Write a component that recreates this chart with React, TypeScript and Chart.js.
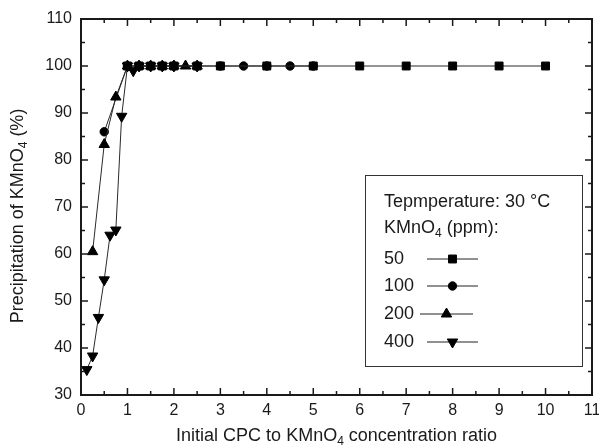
import React, { useEffect, useRef } from 'react';
import { Chart, registerables } from 'chart.js';
Chart.register(...registerables);

// ---- data ----
const xTickValues = [0, 1, 2, 3, 4, 5, 6, 7, 8, 9, 10, 11];
const yTickValues = [30, 40, 50, 60, 70, 80, 90, 100, 110];
const seriesLabels = ['50', '100', '200', '400'];

const x50 = [1, 1.25, 1.5, 1.75, 2, 2.5, 3, 4, 5, 6, 7, 8, 9, 10];
const y50 = [100, 100, 100, 100, 100, 100, 100, 100, 100, 100, 100, 100, 100, 100];

const x100 = [0.5, 1, 1.25, 1.5, 1.75, 2, 2.5, 3, 3.5, 4, 4.5, 5];
const y100 = [86, 100, 100, 100, 100, 100, 100, 100, 100, 100, 100, 100];

const x200 = [0.25, 0.5, 0.75, 1, 1.25, 1.5, 1.75, 2, 2.25, 2.5];
const y200 = [60.5, 83.3, 93.4, 100, 100, 100, 100, 100, 100, 100];

const x400 = [0.125, 0.25, 0.375, 0.5, 0.625, 0.75, 0.875, 1, 1.125, 1.25, 1.5, 1.75, 2, 2.5];
const y400 = [35.4, 38.3, 46.5, 54.5, 64.0, 65.1, 89.3, 100, 99, 100, 100, 100, 100, 100];

const FONT = '"Liberation Sans", Arial, Helvetica, sans-serif';
const INK = '#1a1a1a';

type Marker = { style: string; radius: number; rotation: number };
const markers: Marker[] = [
  { style: 'rect', radius: 5.6, rotation: 0 },
  { style: 'circle', radius: 4.2, rotation: 0 },
  { style: 'triangle', radius: 6, rotation: 0 },
  { style: 'triangle', radius: 6, rotation: 180 },
];

function pts(xs: number[], ys: number[]) {
  return xs.map((x, i) => ({ x, y: ys[i] }));
}

function drawMarker(ctx: CanvasRenderingContext2D, m: Marker, x: number, y: number) {
  const r = m.radius;
  ctx.beginPath();
  if (m.style === 'rect') {
    const s = r * Math.SQRT1_2;
    ctx.rect(x - s, y - s, 2 * s, 2 * s);
  } else if (m.style === 'circle') {
    ctx.arc(x, y, r, 0, Math.PI * 2);
  } else {
    let a = (m.rotation * Math.PI) / 180;
    for (let i = 0; i < 3; i++) {
      const px = x + Math.sin(a) * r;
      const py = y - Math.cos(a) * r;
      if (i === 0) ctx.moveTo(px, py);
      else ctx.lineTo(px, py);
      a += (2 * Math.PI) / 3;
    }
    ctx.closePath();
  }
  ctx.fill();
  ctx.stroke();
}

function richWidth(ctx: CanvasRenderingContext2D, parts: [string, boolean][], size: number) {
  let w = 0;
  for (const [t, sub] of parts) {
    ctx.font = `${sub ? Math.round(size * 0.68) : size}px ${FONT}`;
    w += ctx.measureText(t).width;
  }
  return w;
}
function drawRich(ctx: CanvasRenderingContext2D, parts: [string, boolean][], size: number, x: number, y: number) {
  let cx = x;
  for (const [t, sub] of parts) {
    ctx.font = `${sub ? Math.round(size * 0.68) : size}px ${FONT}`;
    ctx.fillText(t, cx, sub ? y + size * 0.3 : y);
    cx += ctx.measureText(t).width;
  }
}

const decorPlugin = {
  id: 'decor',
  afterDraw(chart: any) {
    const ctx: CanvasRenderingContext2D = chart.ctx;
    const { left, right, top, bottom } = chart.chartArea;
    const xs = chart.scales.x;
    const ys = chart.scales.y;
    ctx.save();
    ctx.strokeStyle = INK;
    ctx.lineWidth = 2;
    ctx.strokeRect(left, top, right - left, bottom - top);
    ctx.lineWidth = 1.5;
    ctx.beginPath();
    for (let v = 0; v <= 11.0001; v += 0.5) {
      const px = xs.getPixelForValue(v);
      const len = Math.abs(v - Math.round(v)) < 1e-6 ? 7 : 4;
      ctx.moveTo(px, bottom);
      ctx.lineTo(px, bottom - len);
      ctx.moveTo(px, top);
      ctx.lineTo(px, top + len);
    }
    for (let v = 30; v <= 110.0001; v += 5) {
      const py = ys.getPixelForValue(v);
      const len = v % 10 === 0 ? 7 : 4;
      ctx.moveTo(left, py);
      ctx.lineTo(left + len, py);
      ctx.moveTo(right, py);
      ctx.lineTo(right - len, py);
    }
    ctx.stroke();

    ctx.fillStyle = INK;
    ctx.textBaseline = 'middle';
    ctx.textAlign = 'left';
    const xt: [string, boolean][] = [['Initial CPC to KMnO', false], ['4', true], [' concentration ratio', false]];
    const wx = richWidth(ctx, xt, 18);
    drawRich(ctx, xt, 18, (left + right) / 2 - wx / 2, 436);
    const yt: [string, boolean][] = [['Precipitation of KMnO', false], ['4', true], [' (%)', false]];
    const wy = richWidth(ctx, yt, 18);
    ctx.save();
    ctx.translate(18, 216);
    ctx.rotate(-Math.PI / 2);
    drawRich(ctx, yt, 18, -wy / 2, 0);
    ctx.restore();

    const bx = 365.5, by = 175.5, bw = 217, bh = 191;
    ctx.lineWidth = 1;
    ctx.strokeStyle = '#333';
    ctx.strokeRect(bx, by, bw, bh);
    ctx.fillStyle = INK;
    ctx.font = `18px ${FONT}`;
    ctx.fillText('Tepmperature: 30 \u00B0C', 384, 202);
    drawRich(ctx, [['KMnO', false], ['4', true], [' (ppm):', false]], 18, 384, 228);
    const rowsY = [259, 286, 314, 342];
    const lineX1 = [427, 427, 420, 427];
    const lineX2 = [478, 478, 473, 478];
    seriesLabels.forEach((lab, i) => {
      const ry = rowsY[i];
      ctx.font = `18px ${FONT}`;
      ctx.fillStyle = INK;
      ctx.fillText(lab, 384, ry);
      ctx.strokeStyle = '#222';
      ctx.lineWidth = 1;
      ctx.beginPath();
      ctx.moveTo(lineX1[i], ry);
      ctx.lineTo(lineX2[i], ry);
      ctx.stroke();
      ctx.fillStyle = '#000';
      ctx.strokeStyle = '#000';
      drawMarker(ctx, markers[i], (lineX1[i] + lineX2[i]) / 2, ry);
    });
    ctx.restore();
  },
};

export default function App() {
  const ref = useRef<HTMLCanvasElement | null>(null);
  useEffect(() => {
    if (!ref.current) return;
    const xsArr = [x50, x100, x200, x400];
    const ysArr = [y50, y100, y200, y400];
    const orders = [3, 4, 2, 1];
    const datasets = seriesLabels.map((lab, i) => ({
      label: lab,
      data: pts(xsArr[i], ysArr[i]),
      showLine: true,
      borderColor: '#2a2a2a',
      borderWidth: 1,
      backgroundColor: '#000',
      pointBackgroundColor: '#000',
      pointBorderColor: '#000',
      pointBorderWidth: 1,
      pointStyle: markers[i].style,
      pointRadius: markers[i].radius,
      pointRotation: markers[i].rotation,
      order: orders[i],
    }));
    const chart = new Chart(ref.current, {
      type: 'scatter',
      data: { datasets },
      options: {
        animation: false,
        responsive: false,
        layout: { padding: { top: 19, right: 7, left: 0, bottom: 0 } },
        plugins: { legend: { display: false }, tooltip: { enabled: false } },
        scales: {
          x: {
            type: 'linear',
            min: 0,
            max: 11,
            grid: { display: false, drawTicks: false },
            border: { display: false },
            ticks: {
              stepSize: 1,
              padding: 6,
              color: INK,
              font: { family: FONT, size: 16 },
              callback: (v: any) => (xTickValues.includes(Number(v)) ? String(v) : ''),
            },
            afterFit: (s: any) => {
              s.height = 52;
              s.paddingLeft = 0;
              s.paddingRight = 0;
            },
          },
          y: {
            type: 'linear',
            min: 30,
            max: 110,
            grid: { display: false, drawTicks: false },
            border: { display: false },
            ticks: {
              stepSize: 10,
              padding: 9,
              color: INK,
              font: { family: FONT, size: 16 },
              callback: (v: any) => (yTickValues.includes(Number(v)) ? String(v) : ''),
            },
            afterFit: (s: any) => {
              s.width = 81;
              s.paddingTop = 0;
              s.paddingBottom = 0;
            },
          },
        },
      },
      plugins: [decorPlugin],
    });
    return () => chart.destroy();
  }, []);
  return (
    <div style={{ position: 'absolute', left: 0, top: 0, width: 599, height: 447, background: '#fff' }}>
      <canvas ref={ref} width={599} height={447} style={{ display: 'block' }} />
    </div>
  );
}
